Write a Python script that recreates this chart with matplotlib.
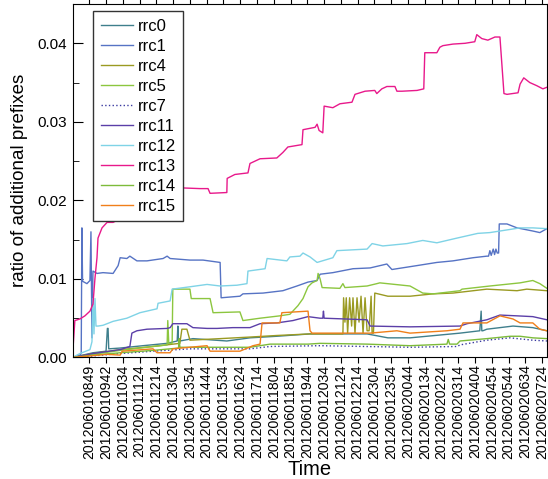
import matplotlib
matplotlib.use('Agg')
import matplotlib.pyplot as plt
from matplotlib.ticker import MultipleLocator

plt.rcParams['font.family'] = ['Liberation Sans', 'DejaVu Sans']

# etiquetas de tiempo (una cada 50 muestras)
tick_labels = ['201206010849', '201206010942', '201206011034', '201206011124',
               '201206011214', '201206011304', '201206011354', '201206011444',
               '201206011534', '201206011624', '201206011714', '201206011804',
               '201206011854', '201206011944', '201206012034', '201206012124',
               '201206012214', '201206012304', '201206012354', '201206020044',
               '201206020134', '201206020224', '201206020314', '201206020404',
               '201206020454', '201206020544', '201206020634', '201206020724']
tick_pos = [50 * (i + 1) for i in range(len(tick_labels))]

# series (muestra, ratio)
rrc0_x = [0, 61, 100, 104, 106, 108, 142, 210, 282, 312, 314, 316, 320, 359, 460, 529, 609, 708,
          776, 878, 940, 1006, 1155, 1214, 1218, 1220, 1223, 1235, 1313, 1372, 1414]
rrc0_y = [0, 0.0006, 0.0008, 0.0037, 0.0037, 0.0011, 0.0012, 0.0015, 0.0018, 0.0021, 0.004, 0.0021,
          0.0021, 0.0024, 0.0021, 0.0025, 0.0027, 0.003, 0.003, 0.003, 0.0025, 0.0025, 0.0031, 0.0034,
          0.0059, 0.0034, 0.0034, 0.0036, 0.004, 0.0038, 0.0034]

rrc1_x = [0, 22, 26, 28, 30, 43, 52, 55, 58, 61, 73, 91, 121, 136, 142, 162, 171, 192, 222, 270, 282,
          291, 350, 389, 440, 443, 499, 508, 568, 627, 669, 702, 729, 738, 776, 836, 887, 937, 952,
          1027, 1086, 1134, 1194, 1235, 1240, 1244, 1248, 1254, 1258, 1262, 1266, 1270, 1272, 1295,
          1325, 1372, 1393, 1414]
rrc1_y = [0, 0.0003, 0.0005, 0.0165, 0.0097, 0.0094, 0.0098, 0.016, 0.0025, 0.011, 0.0107, 0.0108,
          0.0107, 0.0117, 0.0127, 0.0126, 0.0129, 0.0123, 0.0123, 0.0126, 0.0129, 0.0126, 0.0124,
          0.0124, 0.0121, 0.0076, 0.0078, 0.0081, 0.0082, 0.0085, 0.0091, 0.0096, 0.0098, 0.0106,
          0.0108, 0.0113, 0.0114, 0.0119, 0.0112, 0.0117, 0.0121, 0.0123, 0.0127, 0.0129, 0.0129,
          0.0136, 0.013, 0.0138, 0.0131, 0.0138, 0.0133, 0.0133, 0.017, 0.017, 0.0165, 0.0161,
          0.0159, 0.0164]

rrc4_x = [0, 61, 142, 240, 320, 326, 341, 350, 440, 529, 609, 708, 776, 806, 808, 812, 816, 820, 826,
          832, 836, 842, 848, 854, 860, 866, 872, 878, 884, 890, 893, 897, 901, 940, 1006, 1075, 1134,
          1235, 1325, 1354, 1414]
rrc4_y = [0, 0.0005, 0.001, 0.0014, 0.0018, 0.0036, 0.0036, 0.0022, 0.0024, 0.0026, 0.0028, 0.003,
          0.003, 0.003, 0.0076, 0.0045, 0.0076, 0.0031, 0.0076, 0.004, 0.0076, 0.0031, 0.0076, 0.0045,
          0.0078, 0.0031, 0.0076, 0.0034, 0.0034, 0.0078, 0.0031, 0.0031, 0.0082, 0.0078, 0.0078,
          0.0081, 0.0082, 0.0087, 0.0085, 0.0087, 0.0085]

rrc5_x = [0, 61, 142, 240, 282, 284, 287, 297, 299, 350, 354, 410, 419, 499, 508, 559, 618, 648, 672,
          687, 702, 714, 729, 732, 738, 744, 797, 806, 812, 878, 907, 916, 1006, 1044, 1075, 1155,
          1161, 1244, 1334, 1372, 1393, 1414]
rrc5_y = [0, 0.0004, 0.0009, 0.0014, 0.0016, 0.0047, 0.0018, 0.0018, 0.0087, 0.0087, 0.0075, 0.0075,
          0.0057, 0.0058, 0.0047, 0.005, 0.0053, 0.0055, 0.0066, 0.0075, 0.009, 0.0095, 0.0098,
          0.0107, 0.01, 0.0089, 0.0088, 0.0094, 0.0089, 0.0091, 0.0094, 0.0095, 0.0091, 0.0082,
          0.0081, 0.0085, 0.0087, 0.0091, 0.0095, 0.0098, 0.0094, 0.0088]

rrc7_x = [0, 61, 142, 240, 350, 529, 589, 738, 1006, 1146, 1155, 1235, 1304, 1372, 1414]
rrc7_y = [0, 0.0002, 0.0005, 0.0008, 0.0011, 0.0011, 0.0014, 0.0015, 0.0013, 0.0014, 0.0016, 0.0022,
          0.0025, 0.0022, 0.0021]

rrc11_x = [0, 61, 142, 171, 177, 192, 222, 282, 291, 299, 341, 359, 401, 431, 478, 529, 559, 609,
           657, 702, 738, 746, 748, 750, 878, 887, 1006, 1155, 1176, 1235, 1274, 1325, 1372, 1414]
rrc11_y = [0, 0.0005, 0.001, 0.0014, 0.0031, 0.0034, 0.0036, 0.0037, 0.0038, 0.0043, 0.0043, 0.0038,
           0.0037, 0.0037, 0.0038, 0.0038, 0.0043, 0.0044, 0.0047, 0.0052, 0.005, 0.005, 0.0059,
           0.005, 0.0048, 0.004, 0.0039, 0.004, 0.0043, 0.0048, 0.0054, 0.0053, 0.0052, 0.0048]

rrc12_x = [0, 22, 52, 58, 61, 64, 67, 70, 76, 91, 121, 162, 201, 252, 255, 291, 297, 350, 401, 440,
           490, 520, 523, 574, 580, 639, 648, 678, 687, 708, 729, 776, 788, 878, 893, 925, 997, 1044,
           1086, 1146, 1208, 1244, 1274, 1334, 1372, 1414]
rrc12_y = [0, 0.0005, 0.001, 0.002, 0.0075, 0.003, 0.0075, 0.004, 0.004, 0.0041, 0.0046, 0.005,
           0.0057, 0.0062, 0.0069, 0.0072, 0.0087, 0.009, 0.0093, 0.0091, 0.0092, 0.0094, 0.011,
           0.0113, 0.0126, 0.0123, 0.0128, 0.0129, 0.0133, 0.0128, 0.0121, 0.0127, 0.0136, 0.0138,
           0.0145, 0.0142, 0.0145, 0.0149, 0.0146, 0.0152, 0.0158, 0.0159, 0.0161, 0.0165, 0.0165,
           0.0164]

rrc13_x = [0, 1, 7, 22, 37, 52, 61, 67, 73, 76, 88, 103, 121, 200, 320, 380, 404, 410, 460, 461, 484,
           523, 529, 559, 609, 627, 642, 684, 687, 723, 729, 735, 746, 750, 776, 797, 833, 842, 872,
           901, 907, 922, 937, 961, 967, 982, 1027, 1047, 1050, 1086, 1095, 1104, 1134, 1170, 1199,
           1205, 1220, 1238, 1259, 1274, 1286, 1295, 1328, 1334, 1345, 1363, 1384, 1402, 1414]
rrc13_y = [0, 0.0008, 0.0047, 0.0049, 0.0053, 0.0059, 0.0068, 0.0101, 0.0127, 0.0152, 0.0165,
           0.0172, 0.0172, 0.019, 0.0216, 0.0215, 0.0215, 0.0209, 0.021, 0.0228, 0.0233, 0.0235,
           0.0247, 0.0253, 0.0254, 0.0261, 0.0268, 0.0271, 0.029, 0.0293, 0.0297, 0.0289, 0.0286,
           0.032, 0.0318, 0.0323, 0.0325, 0.0335, 0.0339, 0.034, 0.0336, 0.0342, 0.0345, 0.0345,
           0.0339, 0.0339, 0.034, 0.0342, 0.0388, 0.0388, 0.0395, 0.0397, 0.0399, 0.04, 0.0402,
           0.0411, 0.0406, 0.0404, 0.0408, 0.0408, 0.0336, 0.0335, 0.0337, 0.0348, 0.0356, 0.035,
           0.0346, 0.0342, 0.0344]

rrc14_x = [0, 61, 142, 240, 316, 318, 320, 350, 529, 589, 702, 738, 878, 1006, 1116, 1120, 1124,
           1146, 1155, 1235, 1304, 1334, 1372, 1414]
rrc14_y = [0, 0.0003, 0.0006, 0.0009, 0.0012, 0.0024, 0.0013, 0.0013, 0.0013, 0.0017, 0.0017,
           0.0018, 0.0017, 0.0015, 0.0017, 0.0023, 0.0017, 0.0017, 0.0021, 0.0024, 0.0027, 0.0027,
           0.0025, 0.0024]

rrc15_x = [0, 52, 103, 142, 148, 240, 252, 291, 299, 401, 410, 499, 538, 559, 565, 618, 624, 702,
           708, 714, 887, 967, 1006, 1116, 1155, 1164, 1235, 1274, 1313, 1334, 1372, 1393, 1414]
rrc15_y = [0, 0.0002, 0.0004, 0.0003, 0.0008, 0.0011, 0.0006, 0.0006, 0.0011, 0.0015, 0.0008,
           0.0008, 0.0015, 0.0017, 0.0044, 0.0044, 0.0057, 0.0059, 0.0034, 0.0031, 0.0031, 0.0034,
           0.0031, 0.0034, 0.0036, 0.0044, 0.0044, 0.0053, 0.0049, 0.0044, 0.0044, 0.0036, 0.0034]

fig = plt.figure(figsize=(5.48, 4.79), dpi=100)
ax = fig.add_axes([0.1323, 0.2537, 0.8657, 0.7379])

lw = 1.0
ax.plot(rrc0_x, rrc0_y, color='#3f7f8c', lw=lw, label='rrc0')
ax.plot(rrc1_x, rrc1_y, color='#5673c4', lw=lw, label='rrc1')
ax.plot(rrc4_x, rrc4_y, color='#9a9a22', lw=lw, label='rrc4')
ax.plot(rrc5_x, rrc5_y, color='#8cc63f', lw=lw, label='rrc5')
ax.plot(rrc7_x, rrc7_y, color='#3a3aa0', lw=lw, ls=':', label='rrc7')
ax.plot(rrc11_x, rrc11_y, color='#5b3fa8', lw=lw, label='rrc11')
ax.plot(rrc12_x, rrc12_y, color='#7fd3e6', lw=lw, label='rrc12')
ax.plot(rrc13_x, rrc13_y, color='#e8198b', lw=lw, label='rrc13')
ax.plot(rrc14_x, rrc14_y, color='#7dbb3a', lw=lw, label='rrc14')
ax.plot(rrc15_x, rrc15_y, color='#f07f1a', lw=lw, label='rrc15')

ax.set_xlim(0, 1414)
ax.set_ylim(0, 0.045)
ax.set_xticks(tick_pos)
ax.set_xticklabels(tick_labels, rotation=90, fontsize=10.2)
ax.yaxis.set_minor_locator(MultipleLocator(0.005))
ax.set_yticks([0, 0.01, 0.02, 0.03, 0.04])
ax.set_yticklabels(['0.00', '0.01', '0.02', '0.03', '0.04'], fontsize=11)
ax.tick_params(axis='y', which='major', direction='in', length=7, pad=4)
ax.tick_params(axis='y', which='minor', direction='in', length=4)
ax.tick_params(axis='x', which='major', direction='out', length=4, pad=1, top=True)
ax.set_xlabel('Time', fontsize=14.5, labelpad=1)
ax.set_ylabel('ratio of additional prefixes', fontsize=13.5, labelpad=7)

leg = ax.legend(loc='upper left', bbox_to_anchor=(0.044, 0.98), fontsize=12,
                handlelength=1.9, labelspacing=0.3, fancybox=False, borderpad=0.45,
                handletextpad=0.3, borderaxespad=0.0)
leg.get_frame().set_edgecolor('#333333')
leg.get_frame().set_linewidth(1.0)
leg.get_frame().set_alpha(1)

fig.savefig('out.png', dpi=100)
